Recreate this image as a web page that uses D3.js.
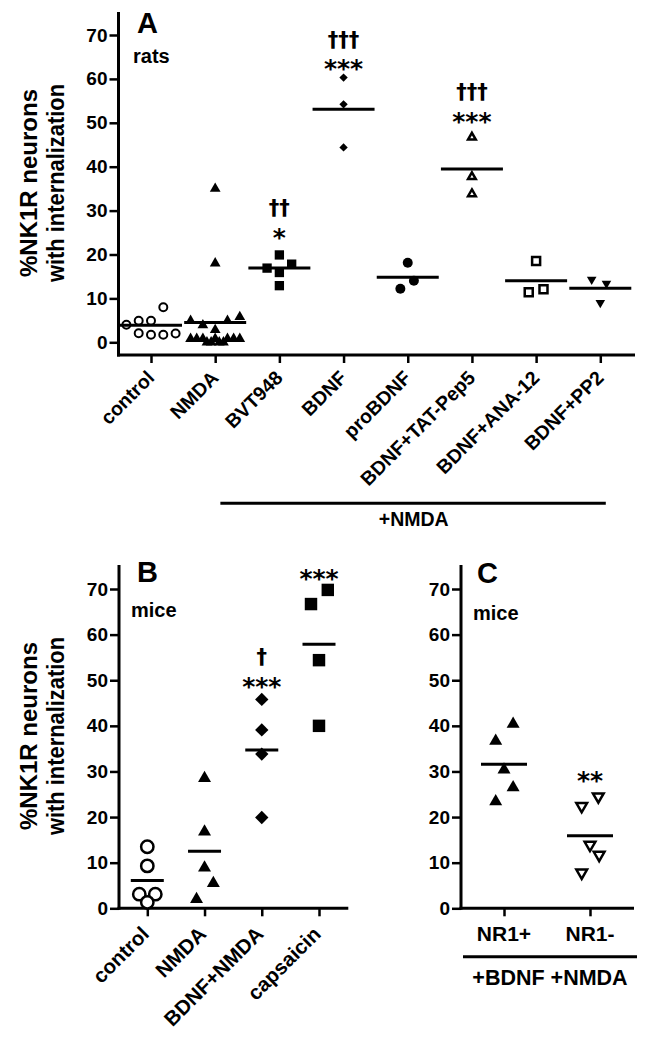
<!DOCTYPE html>
<html><head><meta charset="utf-8">
<script src="https://cdn.jsdelivr.net/npm/d3@7"></script>
<style>
body{margin:0;background:#fff}
svg text{font-family:"Liberation Sans",Arial,sans-serif;font-weight:bold;fill:#000}
svg text.sym{font-family:"DejaVu Sans",sans-serif}
</style>
</head><body>
<svg id="fig" width="647" height="1040"></svg>
<script>
// ---------------- DATA ----------------
const yTicks = [0, 10, 20, 30, 40, 50, 60, 70];

// Panel A (rats)
const catsA = ["control", "NMDA", "BVT948", "BDNF", "proBDNF", "BDNF+TAT-Pep5", "BDNF+ANA-12", "BDNF+PP2"];
const aControl = [4.0, 4.9, 2.05, 4.9, 1.7, 1.7, 8.0, 2.0];
const aNMDA = [35, 18, 4.9, 3.9, 2.8, 4.9, 5.8, 0.8, 0.8, 0.8, 0, 0, 0.8, 0, 0, 0.8, 0.8, 0.8];
const aBVT948 = [16.9, 19.9, 15.9, 12.9, 17.8];
const aBDNF = [60.3, 54.2, 44.4];
const aProBDNF = [18.1, 14.0, 12.2];
const aTATPep5 = [46.7, 37.7, 33.8];
const aANA12 = [18.5, 11.4, 12.1];
const aPP2 = [14.3, 13.4, 9.0];
const meansA = [3.9, 4.5, 16.9, 53.1, 14.8, 39.5, 14.0, 12.3];
const starsA = ["", "", "*", "***", "", "***", "", ""];
const daggersA = ["", "", "††", "†††", "", "†††", "", ""];

// Panel B (mice)
const catsB = ["control", "NMDA", "BDNF+NMDA", "capsaicin"];
const bControl = [13.5, 9.3, 3.1, 3.1, 1.3];
const bNMDA = [28.5, 16.8, 8.9, 5.5, 2.0];
const bBDNFNMDA = [45.8, 39.1, 33.8, 19.9];
const bCapsaicin = [66.7, 69.8, 54.4, 40.0];
const meansB = [6.1, 12.5, 34.7, 57.9];
const starsB = ["", "", "***", "***"];
const daggersB = ["", "", "†", ""];

// Panel C (mice)
const catsC = ["NR1+", "NR1-"];
const cNR1pos = [40.4, 36.7, 30.4, 26.5, 23.4];
const cNR1neg = [24.5, 22.4, 13.9, 11.7, 7.8];
const meansC = [31.6, 15.9];
const starsC = ["", "**"];

// horizontal scatter (beeswarm) offsets, in marker slots — layout only
const jitA = [[-2,-1,-1,0,0,1,1,2],[0,0,-2,-1,0,1,2,-2,-1.5,-1,-0.67,-0.33,0,0.33,0.67,1,1.5,2],[-1,0,0,0,1],[0,0,0],[0,0.5,-0.6],[0,0,0],[0,-0.6,0.6],[-0.7,0.5,0]];
const jitB = [[0,0,-1,1,0],[0,0,0,1.1,-1],[0,0,0,0],[-1,1.1,0,0]];
const jitC = [[1.1,-1,0,1.1,-1],[1,-1,0,1.1,-1]];

// ---------------- DRAW ----------------
const svg = d3.select("#fig");
const BLACK = "#000";

function yAxis(xPos, y, top, bottom) {
  const g = svg.append("g").attr("transform", `translate(${xPos},0)`);
  g.call(d3.axisLeft(y).tickValues(yTicks).tickSize(9).tickPadding(2));
  g.attr("font-family", null).attr("font-size", null);
  g.select(".domain").remove();
  g.selectAll(".tick line").attr("stroke", BLACK).attr("stroke-width", 2.5);
  g.selectAll(".tick text").attr("font-size", 19).attr("fill", BLACK);
  svg.append("line").attr("x1", xPos).attr("x2", xPos).attr("y1", top).attr("y2", bottom + 1.5)
    .attr("stroke", BLACK).attr("stroke-width", 3);
}

function xAxis(x, yPos, left, right, cats, rotated, fs, off) {
  const g = svg.append("g").attr("transform", `translate(0,${yPos})`);
  g.call(d3.axisBottom(x).tickSize(8).tickFormat(""));
  g.select(".domain").remove();
  g.selectAll(".tick line").attr("stroke", BLACK).attr("stroke-width", 2.5);
  svg.append("line").attr("x1", left - 1.5).attr("x2", right).attr("y1", yPos).attr("y2", yPos)
    .attr("stroke", BLACK).attr("stroke-width", 3);
  cats.forEach(c => {
    if (rotated) {
      svg.append("text").attr("text-anchor", "end").attr("font-size", fs)
        .attr("transform", `translate(${x(c) + off[0]},${yPos + off[1]}) rotate(-45)`).text(c);
    } else {
      svg.append("text").attr("text-anchor", "middle").attr("font-size", fs)
        .attr("x", x(c)).attr("y", yPos + off[1]).text(c);
    }
  });
}

function points(x, y, cat, vals, jit, slot, sym) {
  svg.append("g").selectAll("path").data(vals).join("path")
    .attr("transform", (d, i) => `translate(${x(cat) + jit[i] * slot},${y(d)}) rotate(${sym.rot || 0})`)
    .attr("d", d3.symbol().type(sym.type).size(sym.size))
    .attr("fill", sym.open ? "#fff" : BLACK)
    .attr("stroke", sym.open ? BLACK : "none")
    .attr("stroke-width", sym.open ? sym.sw : 0)
    .attr("stroke-linejoin", "miter");
}

function meanLines(x, y, cats, means, w) {
  svg.append("g").selectAll("line").data(cats).join("line")
    .attr("x1", c => x(c) - w / 2).attr("x2", c => x(c) + w / 2)
    .attr("y1", (c, i) => y(means[i])).attr("y2", (c, i) => y(means[i]))
    .attr("stroke", BLACK).attr("stroke-width", 3);
}

function marks(x, cats, syms, yBase, fs, dagger) {
  cats.forEach((c, i) => {
    if (!syms[i]) return;
    const t = svg.append("text").attr("class", "sym").attr("text-anchor", "middle").attr("font-size", fs)
      .attr("x", x(c)).attr("y", yBase[i]).text(syms[i]);
    if (dagger) t.attr("font-weight", "normal");
  });
}

function yLabel(cy) {
  [["%NK1R neurons", 37, 188], ["with internalization", 64, 198]].forEach(([t, bx, len]) => {
    svg.append("text").attr("text-anchor", "middle").attr("font-size", 23)
      .attr("transform", `translate(${bx},${cy}) rotate(-90)`)
      .attr("textLength", len).attr("lengthAdjust", "spacingAndGlyphs").text(t);
  });
}

// ---- Panel A ----
const yA = d3.scaleLinear().domain([0, 70]).range([342.3, 35]);
const xA = d3.scalePoint().domain(catsA).range([151, 600.3]);
yAxis(118.5, yA, 12, 355);
xAxis(xA, 355, 118.5, 635, catsA, true, 19.5, [4.5, 24]);
yLabel(183);

const symsA = [
  {type: d3.symbolCircle, size: 50, open: true, sw: 2},
  {type: d3.symbolTriangle, size: 50},
  {type: d3.symbolSquare, size: 87},
  {type: d3.symbolSquare, size: 35, rot: 45},
  {type: d3.symbolCircle, size: 78},
  {type: d3.symbolTriangle, size: 26, open: true, sw: 2.5},
  {type: d3.symbolSquare, size: 64, open: true, sw: 2.5},
  {type: d3.symbolTriangle, size: 40, rot: 180}
];
const dataA = [aControl, aNMDA, aBVT948, aBDNF, aProBDNF, aTATPep5, aANA12, aPP2];
dataA.forEach((vals, i) => points(xA, yA, catsA[i], vals, jitA[i], 12.3, symsA[i]));
meanLines(xA, yA, catsA, meansA, 62);
marks(xA, catsA, starsA, [0, 0, 246, 77, 0, 130, 0, 0], 25);
marks(xA, catsA, daggersA, [0, 0, 215, 47, 0, 99, 0, 0], 21, true);

svg.append("text").attr("x", 137).attr("y", 33).attr("font-size", 29).text("A");
svg.append("text").attr("x", 133).attr("y", 63).attr("font-size", 20).text("rats");

svg.append("line").attr("x1", xA("BVT948") - 59).attr("x2", xA("BDNF+PP2") + 5.5)
  .attr("y1", 503.3).attr("y2", 503.3).attr("stroke", BLACK).attr("stroke-width", 3);
svg.append("text").attr("x", 413.7).attr("y", 526).attr("text-anchor", "middle").attr("font-size", 19.5).text("+NMDA");

// ---- Panel B ----
const yB = d3.scaleLinear().domain([0, 70]).range([908.3, 589]);
const xB = d3.scalePoint().domain(catsB).range([147.3, 319]);
yAxis(119, yB, 565, 908.3);
xAxis(xB, 908.3, 119, 348.3, catsB, true, 20.5, [3, 27]);
yLabel(736);

const symsB = [
  {type: d3.symbolCircle, size: 120, open: true, sw: 2.5},
  {type: d3.symbolTriangle, size: 73},
  {type: d3.symbolSquare, size: 89, rot: 45},
  {type: d3.symbolSquare, size: 155}
];
const dataB = [bControl, bNMDA, bBDNFNMDA, bCapsaicin];
dataB.forEach((vals, i) => points(xB, yB, catsB[i], vals, jitB[i], 8, symsB[i]));
meanLines(xB, yB, catsB, meansB, 33);
marks(xB, catsB, starsB, [0, 0, 694.6, 587], 25);
marks(xB, catsB, daggersB, [0, 0, 664, 0], 21, true);

svg.append("text").attr("x", 137).attr("y", 582).attr("font-size", 29).text("B");
svg.append("text").attr("x", 131).attr("y", 616.7).attr("font-size", 20).text("mice");

// ---- Panel C ----
const yC = d3.scaleLinear().domain([0, 70]).range([908.3, 589]);
const xC = d3.scalePoint().domain(catsC).range([504, 590]);
yAxis(461, yC, 565, 908.3);
xAxis(xC, 908.3, 461, 634, catsC, false, 21, [0, 33]);

const symsC = [
  {type: d3.symbolTriangle, size: 73},
  {type: d3.symbolTriangle, size: 50, open: true, sw: 2.5, rot: 180}
];
[cNR1pos, cNR1neg].forEach((vals, i) => points(xC, yC, catsC[i], vals, jitC[i], 8.3, symsC[i]));
meanLines(xC, yC, catsC, meansC, 46);
marks(xC, catsC, starsC, [0, 789], 25);

svg.append("text").attr("x", 477).attr("y", 583).attr("font-size", 29).text("C");
svg.append("text").attr("x", 473).attr("y", 620).attr("font-size", 20).text("mice");

svg.append("line").attr("x1", 463).attr("x2", 637).attr("y1", 956.7).attr("y2", 956.7)
  .attr("stroke", BLACK).attr("stroke-width", 3);
svg.append("text").attr("x", 550).attr("y", 985).attr("text-anchor", "middle").attr("font-size", 21.5).text("+BDNF +NMDA");
</script>
</body></html>
